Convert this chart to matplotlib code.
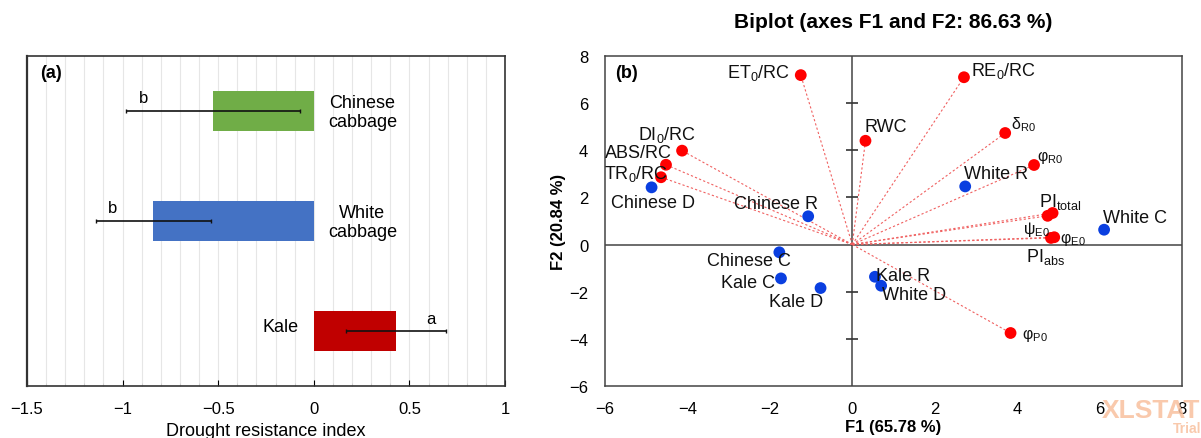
import numpy as np
import matplotlib
matplotlib.use("Agg")
import matplotlib.pyplot as plt

plt.rcParams['font.family'] = ['Liberation Sans', 'DejaVu Sans']
plt.rcParams['mathtext.fontset'] = 'custom'
plt.rcParams['mathtext.rm'] = 'Liberation Sans'
plt.rcParams['mathtext.it'] = 'Liberation Sans:italic'
plt.rcParams['axes.unicode_minus'] = True

# ---- panel (a): drought resistance index ----
crops = ['Kale', 'White\ncabbage', 'Chinese\ncabbage']
dri = [0.43, -0.84, -0.525]
dri_err = [0.26, 0.30, 0.455]
letters = ['a', 'b', 'b']
bar_colors = ['#c00000', '#4472c4', '#70ad47']

# ---- panel (b): PCA biplot ----
obs_names = ['Chinese D', 'Chinese R', 'Chinese C', 'Kale C', 'Kale D',
             'Kale R', 'White D', 'White R', 'White C']
obs_f1 = [-4.87, -1.07, -1.77, -1.73, -0.77, 0.55, 0.70, 2.74, 6.11]
obs_f2 = [2.43, 1.20, -0.33, -1.44, -1.85, -1.37, -1.75, 2.47, 0.63]

var_names = ['ET$_\\mathregular{0}$/RC', 'RE$_\\mathregular{0}$/RC', 'RWC',
             'δ$_\\mathregular{R0}$', 'φ$_\\mathregular{R0}$', 'DI$_\\mathregular{0}$/RC',
             'ABS/RC', 'TR$_\\mathregular{0}$/RC', 'PI$_\\mathregular{total}$',
             'ψ$_\\mathregular{E0}$', 'φ$_\\mathregular{E0}$', 'PI$_\\mathregular{abs}$',
             'φ$_\\mathregular{P0}$']
var_f1 = [-1.25, 2.71, 0.32, 3.71, 4.41, -4.13, -4.52, -4.64, 4.86, 4.74, 4.90, 4.82, 3.84]
var_f2 = [7.20, 7.11, 4.41, 4.74, 3.38, 3.99, 3.39, 2.86, 1.34, 1.22, 0.31, 0.28, -3.76]

# label placement (offset in points, horizontal alignment, font size)
obs_lab = [(1, -11, 'center'), (7, 9, 'right'), (8, -6, 'right'), (-4, -3, 'right'),
           (2, -10, 'right'), (1, 1, 'left'), (0.5, -6, 'left'), (-1, 9, 'left'),
           (-1, 9, 'left')]
var_lab = [(-8, 2, 'right', 13), (5, 5, 'left', 13), (-1, 10, 'left', 13),
           (4, 7, 'left', 11.5), (2, 6, 'left', 11.5), (-11, 12, 'center', 13),
           (4, 9, 'right', 13), (5, 3, 'right', 13), (-10, 9, 'left', 13),
           (-18, -9, 'left', 11.5), (4, -1, 'left', 11.5), (-18, -13, 'left', 13),
           (8, -1, 'left', 11.5)]

fig = plt.figure(figsize=(12.01, 4.39), dpi=100)

# ================= panel (a) =================
ax1 = fig.add_axes([27 / 1201, 52 / 439, 478 / 1201, 330 / 439])
ypos = np.arange(len(crops))
ax1.barh(ypos, dri, height=0.36, color=bar_colors, zorder=2)
ax1.errorbar(dri, ypos, xerr=dri_err, fmt='none', ecolor='#111111',
             elinewidth=1.2, capsize=1.5, capthick=1, zorder=3)
for i, (v, e, lt, name) in enumerate(zip(dri, dri_err, letters, crops)):
    if v < 0:
        ax1.annotate(lt, (v - e, i), xytext=(12, 10), textcoords='offset points',
                     ha='center', va='center', fontsize=12)
        ax1.annotate(name, (0, i), xytext=(35, -1), textcoords='offset points',
                     ha='center', va='center', fontsize=13, linespacing=1.15)
    else:
        ax1.annotate(lt, (v + e, i), xytext=(-11, 9), textcoords='offset points',
                     ha='center', va='center', fontsize=12)
        ax1.annotate(name, (0, i), xytext=(-11, 3), textcoords='offset points',
                     ha='right', va='center', fontsize=13)

ax1.set_xlim(-1.5, 1)
ax1.set_ylim(-0.5, 2.5)
ax1.set_yticks([])
ax1.set_xticks(np.arange(-1.5, 1.01, 0.5))
ax1.set_xticks(np.arange(-1.5, 1.01, 0.1), minor=True)
ax1.xaxis.set_major_formatter(lambda x, pos: f'{x:g}'.replace('-', '−'))
ax1.grid(axis='x', which='both', color='#e6e6e6', lw=0.8, zorder=0)
ax1.set_axisbelow(True)
ax1.tick_params(axis='x', which='major', direction='in', length=4, labelsize=12, pad=11)
ax1.tick_params(axis='x', which='minor', direction='in', length=2, color='#cccccc')
for s in ax1.spines.values():
    s.set_color('#333333')
    s.set_linewidth(1.2)
ax1.spines['left'].set_linewidth(1.6)
ax1.set_xlabel('Drought resistance index', fontsize=13, labelpad=4)
ax1.text(0.027, 0.95, '(a)', transform=ax1.transAxes, fontsize=13,
         fontweight='bold', ha='left', va='center')

# ================= panel (b) =================
ax2 = fig.add_axes([605 / 1201, 52.3 / 439, 577 / 1201, 329.4 / 439])
ax2.set_xlim(-6, 8)
ax2.set_ylim(-6, 8)
ax2.axhline(0, color='#444444', lw=1.1, zorder=1)
ax2.axvline(0, color='#444444', lw=1.1, zorder=1)
ytk = [-4, -2, 2, 4, 6]
ax2.plot(np.zeros(len(ytk)), ytk, ls='none', marker='_', ms=9, mew=1.2,
         color='#333333', zorder=1)

for x, y in zip(var_f1, var_f2):
    ax2.plot([0, x], [0, y], ls=(0, (2, 2)), lw=0.8, color='#f06060', zorder=2)

ax2.scatter(var_f1, var_f2, s=72, color='#ff0000', edgecolors='none', zorder=4)
ax2.scatter(obs_f1, obs_f2, s=72, color='#0a3fe0', edgecolors='none', zorder=4)

for name, x, y, (dx, dy, ha) in zip(obs_names, obs_f1, obs_f2, obs_lab):
    ax2.annotate(name, (x, y), xytext=(dx, dy), textcoords='offset points',
                 ha=ha, va='center', fontsize=13, color='#111111', zorder=5)
for name, x, y, (dx, dy, ha, fs) in zip(var_names, var_f1, var_f2, var_lab):
    ax2.annotate(name, (x, y), xytext=(dx, dy), textcoords='offset points',
                 ha=ha, va='center', fontsize=fs, color='#111111', zorder=5)

ax2.set_xticks(np.arange(-6, 9, 2))
ax2.set_yticks(np.arange(-6, 9, 2))
ax2.tick_params(axis='x', length=0, labelsize=12, pad=11)
ax2.tick_params(axis='y', length=0, labelsize=12, pad=12)
for s in ax2.spines.values():
    s.set_color('#444444')
    s.set_linewidth(1.1)
ax2.set_xlabel('F1 (65.78 %)', fontsize=12, fontweight='bold', labelpad=2)
ax2.set_ylabel('F2 (20.84 %)', fontsize=12, fontweight='bold', labelpad=2)
ax2.set_title('Biplot (axes F1 and F2: 86.63 %)', fontsize=15, fontweight='bold', pad=21)
ax2.text(0.017, 0.95, '(b)', transform=ax2.transAxes, fontsize=13,
         fontweight='bold', ha='left', va='center')

fig.text(1102 / 1201, 1 - 411 / 439, 'XLSTAT', fontsize=19, fontweight='bold',
         color='#f8c09e', ha='left', va='center', alpha=0.85)
fig.text(1201 / 1201, 1 - 429 / 439, 'Trial', fontsize=10, fontweight='bold',
         color='#f8c09e', ha='right', va='center', alpha=0.85)

fig.savefig('out.png', dpi=100)
